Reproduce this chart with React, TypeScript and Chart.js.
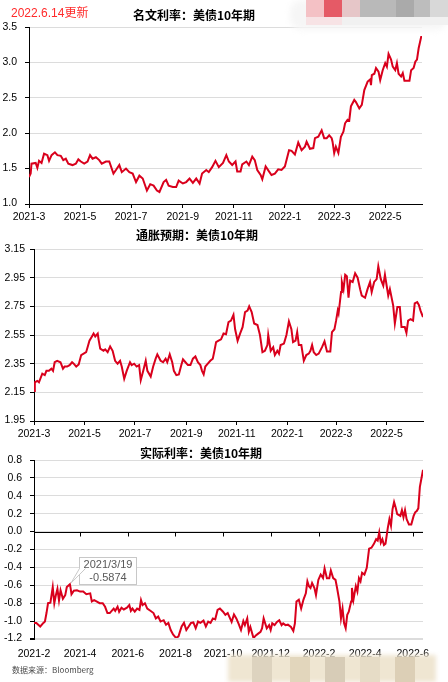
import React, { useEffect, useRef } from "react";
import { Chart, registerables } from "chart.js";

Chart.register(...registerables);

// ---------- Data ----------
const nominalDates = [
  "2021-03-01","2021-03-03","2021-03-04","2021-03-09","2021-03-11","2021-03-13","2021-03-16","2021-03-19","2021-03-23","2021-03-25",
  "2021-03-28","2021-04-01","2021-04-04","2021-04-08","2021-04-11","2021-04-14","2021-04-17","2021-04-22","2021-04-26","2021-04-29",
  "2021-05-02","2021-05-06","2021-05-10","2021-05-13","2021-05-16","2021-05-20","2021-05-24","2021-05-27","2021-06-01","2021-06-05",
  "2021-06-10","2021-06-13","2021-06-17","2021-06-20","2021-06-25","2021-06-29","2021-07-03","2021-07-07","2021-07-11","2021-07-15",
  "2021-07-20","2021-07-24","2021-07-28","2021-08-01","2021-08-04","2021-08-09","2021-08-12","2021-08-15","2021-08-20","2021-08-24",
  "2021-08-27","2021-09-01","2021-09-05","2021-09-09","2021-09-13","2021-09-17","2021-09-21","2021-09-24","2021-09-29","2021-10-02",
  "2021-10-06","2021-10-10","2021-10-14","2021-10-19","2021-10-23","2021-10-26","2021-10-30","2021-11-03","2021-11-05","2021-11-09",
  "2021-11-11","2021-11-16","2021-11-19","2021-11-23","2021-11-26","2021-11-29","2021-12-03","2021-12-05","2021-12-09","2021-12-13",
  "2021-12-16","2021-12-20","2021-12-24","2021-12-28","2022-01-01","2022-01-03","2022-01-06","2022-01-09","2022-01-13","2022-01-17",
  "2022-01-21","2022-01-25","2022-01-27","2022-01-31","2022-02-04","2022-02-06","2022-02-10","2022-02-14","2022-02-17","2022-02-20",
  "2022-02-23","2022-02-26","2022-02-27","2022-03-01","2022-03-03","2022-03-06","2022-03-09","2022-03-12","2022-03-14","2022-03-17",
  "2022-03-19","2022-03-21","2022-03-25","2022-03-27","2022-03-31","2022-04-03","2022-04-06","2022-04-10","2022-04-13","2022-04-14",
  "2022-04-15","2022-04-18","2022-04-20","2022-04-23","2022-04-25","2022-04-28","2022-05-01","2022-05-03","2022-05-05","2022-05-08",
  "2022-05-10","2022-05-13","2022-05-15","2022-05-17","2022-05-20","2022-05-22","2022-05-24","2022-05-28","2022-05-30","2022-06-01",
  "2022-06-04","2022-06-06","2022-06-08","2022-06-10","2022-06-13","2022-06-14",
];
const nominalValues = [
  1.38,1.43,1.57,1.58,1.51,1.61,1.58,1.71,1.69,1.61,
  1.69,1.73,1.69,1.68,1.62,1.64,1.57,1.55,1.57,1.63,
  1.60,1.57,1.60,1.69,1.64,1.66,1.62,1.57,1.60,1.60,
  1.43,1.48,1.55,1.45,1.50,1.45,1.43,1.31,1.40,1.36,
  1.19,1.28,1.26,1.19,1.17,1.31,1.34,1.26,1.24,1.24,
  1.33,1.29,1.31,1.36,1.30,1.36,1.29,1.43,1.48,1.45,
  1.52,1.61,1.52,1.58,1.69,1.60,1.55,1.60,1.46,1.46,
  1.56,1.60,1.55,1.67,1.62,1.48,1.41,1.35,1.53,1.46,
  1.41,1.43,1.49,1.48,1.53,1.62,1.76,1.75,1.70,1.87,
  1.76,1.81,1.88,1.78,1.79,1.93,1.95,2.04,1.93,1.93,
  1.97,1.93,1.88,1.72,1.81,1.72,1.95,2.02,2.14,2.19,
  2.18,2.38,2.47,2.44,2.35,2.40,2.61,2.73,2.76,2.68,
  2.82,2.84,2.92,2.87,2.75,2.89,2.99,2.94,3.12,3.04,
  2.94,2.89,2.99,2.84,2.80,2.85,2.74,2.74,2.74,2.89,
  2.92,3.01,3.04,3.20,3.36,3.36,
];

const breakevenDates = [
  "2021-03-01","2021-03-02","2021-03-05","2021-03-07","2021-03-11","2021-03-14","2021-03-16","2021-03-19","2021-03-22","2021-03-24",
  "2021-03-26","2021-03-29","2021-04-02","2021-04-05","2021-04-07","2021-04-10","2021-04-13","2021-04-16","2021-04-18","2021-04-21",
  "2021-04-24","2021-04-27","2021-04-30","2021-05-03","2021-05-05","2021-05-07","2021-05-10","2021-05-12","2021-05-14","2021-05-17",
  "2021-05-18","2021-05-20","2021-05-24","2021-05-26","2021-05-29","2021-06-01","2021-06-04","2021-06-07","2021-06-10","2021-06-13",
  "2021-06-15","2021-06-18","2021-06-21","2021-06-25","2021-06-27","2021-06-30","2021-07-03","2021-07-06","2021-07-08","2021-07-11",
  "2021-07-14","2021-07-16","2021-07-20","2021-07-23","2021-07-26","2021-07-28","2021-08-01","2021-08-04","2021-08-07","2021-08-09",
  "2021-08-12","2021-08-15","2021-08-17","2021-08-20","2021-08-23","2021-08-26","2021-08-28","2021-08-31","2021-09-03","2021-09-06",
  "2021-09-09","2021-09-12","2021-09-15","2021-09-18","2021-09-20","2021-09-22","2021-09-24","2021-09-27","2021-09-30","2021-10-03",
  "2021-10-05","2021-10-07","2021-10-10","2021-10-13","2021-10-16","2021-10-19","2021-10-22","2021-10-25","2021-10-28","2021-10-30",
  "2021-11-02","2021-11-05","2021-11-08","2021-11-11","2021-11-14","2021-11-16","2021-11-19","2021-11-22","2021-11-26","2021-11-29",
  "2021-12-02","2021-12-05","2021-12-08","2021-12-09","2021-12-12","2021-12-15","2021-12-17","2021-12-20","2021-12-22","2021-12-24",
  "2021-12-28","2021-12-31","2022-01-03","2022-01-06","2022-01-08","2022-01-11","2022-01-13","2022-01-15","2022-01-18","2022-01-21",
  "2022-01-24","2022-01-27","2022-01-29","2022-01-31","2022-02-02","2022-02-05","2022-02-08","2022-02-12","2022-02-15","2022-02-18",
  "2022-02-22","2022-02-24","2022-02-27","2022-03-01","2022-03-03","2022-03-04","2022-03-07","2022-03-08","2022-03-10","2022-03-12",
  "2022-03-14","2022-03-16","2022-03-18","2022-03-21","2022-03-24","2022-03-27","2022-03-30","2022-04-01","2022-04-05","2022-04-08",
  "2022-04-11","2022-04-13","2022-04-16","2022-04-19","2022-04-21","2022-04-24","2022-04-27","2022-04-29","2022-05-03","2022-05-05",
  "2022-05-09","2022-05-11","2022-05-14","2022-05-17","2022-05-19","2022-05-23","2022-05-25","2022-05-27","2022-05-30","2022-06-02",
  "2022-06-04","2022-06-07","2022-06-09","2022-06-11","2022-06-14",
];
const breakevenValues = [
  2.16,2.22,2.23,2.22,2.28,2.27,2.30,2.30,2.315,2.30,
  2.36,2.37,2.36,2.315,2.33,2.33,2.34,2.36,2.35,2.33,
  2.345,2.41,2.42,2.43,2.47,2.51,2.54,2.56,2.54,2.56,
  2.52,2.455,2.44,2.45,2.43,2.47,2.44,2.37,2.35,2.37,
  2.33,2.245,2.30,2.36,2.34,2.35,2.33,2.34,2.235,2.30,
  2.37,2.30,2.26,2.33,2.385,2.415,2.37,2.36,2.385,2.36,
  2.415,2.36,2.30,2.27,2.275,2.34,2.38,2.36,2.34,2.34,
  2.385,2.40,2.36,2.34,2.30,2.275,2.33,2.35,2.37,2.385,
  2.44,2.50,2.51,2.52,2.56,2.555,2.64,2.65,2.69,2.59,
  2.51,2.56,2.605,2.71,2.72,2.75,2.71,2.63,2.62,2.55,
  2.43,2.44,2.48,2.55,2.44,2.465,2.41,2.44,2.42,2.48,
  2.49,2.55,2.645,2.59,2.50,2.51,2.57,2.48,2.48,2.37,
  2.41,2.42,2.44,2.48,2.43,2.41,2.42,2.465,2.505,2.435,
  2.435,2.57,2.59,2.65,2.72,2.70,2.85,2.92,2.87,2.97,
  2.96,2.81,2.93,2.92,2.98,2.95,2.87,2.825,2.81,2.87,
  2.92,2.85,2.92,2.94,3.03,2.94,2.895,2.97,2.825,2.87,
  2.755,2.63,2.745,2.745,2.605,2.605,2.565,2.65,2.66,2.65,
  2.77,2.78,2.76,2.72,2.675,
];

const realDates = [
  "2021-02-01","2021-02-04","2021-02-09","2021-02-13","2021-02-15","2021-02-17","2021-02-19","2021-02-22","2021-02-25","2021-02-27",
  "2021-03-01","2021-03-03","2021-03-05","2021-03-07","2021-03-10","2021-03-13","2021-03-15","2021-03-19","2021-03-20","2021-03-21",
  "2021-03-24","2021-03-28","2021-04-01","2021-04-05","2021-04-09","2021-04-14","2021-04-16","2021-04-19","2021-04-22","2021-04-26",
  "2021-04-30","2021-05-03","2021-05-06","2021-05-09","2021-05-14","2021-05-16","2021-05-19","2021-05-21","2021-05-24","2021-05-27",
  "2021-05-31","2021-06-03","2021-06-05","2021-06-07","2021-06-10","2021-06-13","2021-06-16","2021-06-18","2021-06-20","2021-06-23",
  "2021-06-26","2021-06-30","2021-07-04","2021-07-07","2021-07-10","2021-07-13","2021-07-17","2021-07-20","2021-07-23","2021-07-26",
  "2021-07-29","2021-08-02","2021-08-05","2021-08-07","2021-08-09","2021-08-12","2021-08-15","2021-08-18","2021-08-21","2021-08-24",
  "2021-08-27","2021-08-30","2021-09-02","2021-09-06","2021-09-09","2021-09-12","2021-09-15","2021-09-18","2021-09-21","2021-09-24",
  "2021-09-27","2021-10-01","2021-10-04","2021-10-07","2021-10-09","2021-10-12","2021-10-15","2021-10-18","2021-10-21","2021-10-24",
  "2021-10-27","2021-10-29","2021-11-01","2021-11-03","2021-11-05","2021-11-09","2021-11-12","2021-11-15","2021-11-18","2021-11-20",
  "2021-11-22","2021-11-26","2021-11-29","2021-12-01","2021-12-03","2021-12-06","2021-12-09","2021-12-12","2021-12-15","2021-12-17",
  "2021-12-20","2021-12-23","2021-12-27","2021-12-30","2022-01-01","2022-01-03","2022-01-06","2022-01-09","2022-01-12","2022-01-15",
  "2022-01-17","2022-01-19","2022-01-21","2022-01-23","2022-01-26","2022-01-28","2022-01-31","2022-02-03","2022-02-06","2022-02-08",
  "2022-02-11","2022-02-14","2022-02-16","2022-02-19","2022-02-22","2022-02-24","2022-02-27","2022-03-01","2022-03-03","2022-03-05",
  "2022-03-07","2022-03-09","2022-03-11","2022-03-14","2022-03-15","2022-03-17","2022-03-20","2022-03-22","2022-03-24","2022-03-26",
  "2022-03-28","2022-03-31","2022-04-03","2022-04-06","2022-04-09","2022-04-12","2022-04-15","2022-04-17","2022-04-19","2022-04-21",
  "2022-04-23","2022-04-25","2022-04-27","2022-04-30","2022-05-02","2022-05-04","2022-05-06","2022-05-08","2022-05-10","2022-05-12",
  "2022-05-16","2022-05-18","2022-05-20","2022-05-22","2022-05-24","2022-05-27","2022-05-30","2022-06-02","2022-06-04","2022-06-06",
  "2022-06-08","2022-06-10","2022-06-14",
];
const realValues = [
  -1.02,-1.02,-1.06,-1.02,-1.005,-0.91,-0.80,-0.795,-0.62,-0.80,
  -0.71,-0.64,-0.77,-0.655,-0.75,-0.71,-0.62,-0.5874,-0.64,-0.70,
  -0.66,-0.655,-0.67,-0.67,-0.70,-0.69,-0.78,-0.765,-0.78,-0.80,
  -0.80,-0.84,-0.91,-0.91,-0.86,-0.885,-0.84,-0.895,-0.85,-0.87,
  -0.85,-0.82,-0.885,-0.86,-0.895,-0.86,-0.875,-0.765,-0.82,-0.80,
  -0.86,-0.885,-0.91,-0.97,-0.95,-1.005,-0.99,-1.04,-1.02,-1.10,
  -1.15,-1.19,-1.17,-1.115,-1.06,-1.02,-1.10,-1.06,-1.02,-1.015,
  -1.08,-1.005,-1.02,-0.995,-1.06,-1.005,-1.02,-0.97,-0.98,-0.875,
  -0.86,-0.895,-0.93,-0.91,-0.95,-1.01,-0.925,-0.97,-1.03,-1.10,
  -1.00,-1.045,-0.97,-1.12,-1.065,-1.19,-1.16,-1.14,-1.12,-1.08,
  -0.97,-1.08,-1.045,-1.10,-1.025,-1.045,-1.01,-0.99,-1.045,-1.025,
  -1.045,-1.04,-1.065,-1.11,-1.025,-0.78,-0.76,-0.86,-0.76,-0.69,
  -0.555,-0.61,-0.63,-0.575,-0.63,-0.71,-0.54,-0.48,-0.52,-0.41,
  -0.52,-0.52,-0.435,-0.52,-0.54,-0.63,-0.78,-0.97,-0.86,-1.025,
  -1.08,-0.93,-0.895,-0.78,-0.63,-0.76,-0.61,-0.67,-0.52,-0.555,
  -0.46,-0.48,-0.405,-0.19,-0.18,-0.14,-0.085,-0.10,-0.01,-0.125,
  -0.085,-0.15,-0.135,0.045,0.14,0.065,0.25,0.33,0.27,0.195,
  0.175,0.24,0.16,0.24,0.14,0.08,0.08,0.175,0.215,0.23,
  0.26,0.50,0.69,
];

const nominalXTicks = ["2021-3","2021-5","2021-7","2021-9","2021-11","2022-1","2022-3","2022-5"];
const breakevenXTicks = ["2021-3","2021-5","2021-7","2021-9","2021-11","2022-1","2022-3","2022-5"];
const realXTicks = ["2021-2","2021-4","2021-6","2021-8","2021-10","2021-12","2022-2","2022-4","2022-6"];

const nominalYTicks = [1.0, 1.5, 2.0, 2.5, 3.0, 3.5];
const breakevenYTicks = [1.95, 2.15, 2.35, 2.55, 2.75, 2.95, 3.15];
const realYTicks = [-1.2, -1.0, -0.8, -0.6, -0.4, -0.2, 0.0, 0.2, 0.4, 0.6, 0.8];

const nominalRange = ["2021-03-01", "2022-06-14"];
const breakevenRange = ["2021-03-01", "2022-06-14"];
const realRange = ["2021-02-01", "2022-06-14"];

const annotationDate = "2021-03-19";
const annotationLabel = "2021/3/19";

const titles = ["名文利率：美债10年期", "通胀预期：美债10年期", "实际利率：美债10年期"];
const updateNote = "2022.6.14更新";
const sourceNote = "数据来源：Bloomberg";

// ---------- Helpers ----------
const RED = "#d9001c";
const FONT_FAMILY = "'Liberation Sans', Arial, sans-serif";
const TICK_FONT = { family: FONT_FAMILY, size: 10.5 };

const toDay = (s: string) => {
  const [y, m, d] = s.split("-").map(Number);
  return Date.UTC(y, m - 1, d || 1) / 86400000;
};

type PanelCfg = {
  dates: string[];
  values: number[];
  xTicks: string[];
  yTicks: number[];
  decimals: number;
  range: string[];
  yWidth: number;
  xHeight: number;
  padTop: number;
  padRight: number;
  yPad: number;
  zeroAxis?: boolean;
  annotate?: boolean;
};

const zeroAxisPlugin = {
  id: "zeroAxis",
  beforeDatasetsDraw(chart: any) {
    const { ctx, chartArea, scales } = chart;
    const y0 = Math.round(scales.y.getPixelForValue(0)) + 0.5;
    ctx.save();
    ctx.strokeStyle = "#000";
    ctx.lineWidth = 1;
    ctx.beginPath();
    ctx.moveTo(chartArea.left, y0);
    ctx.lineTo(chartArea.right, y0);
    scales.x.ticks.forEach((t: any) => {
      const px = Math.round(scales.x.getPixelForValue(t.value)) + 0.5;
      ctx.moveTo(px, y0);
      ctx.lineTo(px, y0 + 4);
    });
    ctx.stroke();
    ctx.restore();
  },
};

const annotationPlugin = {
  id: "pointNote",
  afterDatasetsDraw(chart: any) {
    const { ctx, scales } = chart;
    const idx = realDates.indexOf(annotationDate);
    if (idx < 0) return;
    const px = scales.x.getPixelForValue(toDay(realDates[idx]));
    const py = scales.y.getPixelForValue(realValues[idx]);
    const bx = Math.round(px + 9) + 0.5;
    const by = Math.round(py - 27) + 0.5;
    const bw = 57;
    const bh = 27;
    ctx.save();
    ctx.fillStyle = "#fff";
    ctx.strokeStyle = "#c8c8c8";
    ctx.lineWidth = 1;
    ctx.fillRect(bx, by, bw, bh);
    ctx.strokeRect(bx, by, bw, bh);
    ctx.beginPath();
    ctx.moveTo(bx, by + 11);
    ctx.lineTo(px + 1, py - 1);
    ctx.lineTo(bx + 6, by + 11);
    ctx.closePath();
    ctx.fill();
    ctx.beginPath();
    ctx.moveTo(bx, by + 11);
    ctx.lineTo(px + 1, py - 1);
    ctx.lineTo(bx + 6, by + 11);
    ctx.stroke();
    ctx.fillStyle = "#595959";
    ctx.font = "11px " + FONT_FAMILY;
    ctx.textAlign = "center";
    ctx.textBaseline = "middle";
    ctx.fillText(annotationLabel, bx + bw / 2, by + 7);
    ctx.fillText(realValues[idx].toFixed(4), bx + bw / 2, by + 20);
    ctx.restore();
  },
};

// y tick labels and bottom grid line, placed through the y scale's pixel mapping
const makeYLabelPlugin = (p: PanelCfg) => ({
  id: "yTickLabels",
  afterDraw(chart: any) {
    const { ctx, chartArea } = chart;
    const ys = chart.scales.y;
    ctx.save();
    // bottom grid line (for panels without a bottom axis line)
    if (p.zeroAxis) {
      const yb = Math.round(ys.getPixelForValue(p.yTicks[0])) - 0.5;
      ctx.strokeStyle = "#dcdcdc";
      ctx.lineWidth = 1;
      ctx.beginPath();
      ctx.moveTo(chartArea.left + 1, yb);
      ctx.lineTo(chartArea.right, yb);
      ctx.stroke();
      ctx.strokeStyle = "#000";
      ctx.beginPath();
      ctx.moveTo(chartArea.left - 4, yb);
      ctx.lineTo(chartArea.left, yb);
      ctx.stroke();
    }
    ctx.fillStyle = "#000";
    ctx.font = TICK_FONT.size + "px " + FONT_FAMILY;
    ctx.textAlign = "right";
    ctx.textBaseline = "middle";
    p.yTicks.forEach((v) => {
      const py = Math.min(ys.getPixelForValue(v), chartArea.bottom - 1);
      ctx.fillText(v.toFixed(p.decimals), chartArea.left - 4 - p.yPad, py);
    });
    ctx.restore();
  },
});

function makeConfig(p: PanelCfg): any {
  const xTickValues = p.xTicks.map(toDay);
  const plugins: any[] = [makeYLabelPlugin(p)];
  if (p.zeroAxis) plugins.push(zeroAxisPlugin);
  if (p.annotate) plugins.push(annotationPlugin);
  return {
    type: "line",
    data: {
      datasets: [
        {
          data: p.dates.map((d, i) => ({ x: toDay(d), y: p.values[i] })),
          borderColor: RED,
          borderWidth: 2,
          pointRadius: 0,
          tension: 0,
          fill: false,
        },
      ],
    },
    options: {
      animation: false,
      responsive: false,
      devicePixelRatio: 1,
      events: [],
      layout: { padding: { top: p.padTop, right: p.padRight, bottom: 0, left: 0 } },
      plugins: {
        legend: { display: false },
        tooltip: { enabled: false },
        title: { display: false },
      },
      scales: {
        x: {
          type: "linear",
          min: toDay(p.range[0]),
          max: toDay(p.range[1]),
          afterBuildTicks: (s: any) => {
            s.ticks = xTickValues.map((v) => ({ value: v }));
          },
          afterFit: (s: any) => {
            s.height = p.xHeight;
            s.paddingLeft = 0;
            s.paddingRight = 0;
          },
          ticks: {
            autoSkip: false,
            maxRotation: 0,
            minRotation: 0,
            color: "#000",
            font: TICK_FONT,
            padding: p.zeroAxis ? 5 : 3,
            callback: (_v: any, i: number) => p.xTicks[i],
          },
          grid: {
            display: !p.zeroAxis,
            drawOnChartArea: false,
            drawTicks: true,
            tickLength: 4,
            tickColor: "#000",
          },
          border: { display: !p.zeroAxis, color: "#000", width: 1 },
        },
        y: {
          type: "linear",
          min: p.yTicks[0],
          max: p.yTicks[p.yTicks.length - 1],
          afterBuildTicks: (s: any) => {
            s.ticks = p.yTicks.map((v) => ({ value: v }));
          },
          afterFit: (s: any) => {
            s.width = p.yWidth;
            s.paddingTop = 0;
            s.paddingBottom = 0;
          },
          ticks: {
            display: false,
            autoSkip: false,
          },
          grid: {
            color: "#dcdcdc",
            lineWidth: 1,
            drawTicks: true,
            tickLength: 4,
            tickColor: "#000",
          },
          border: { display: true, color: "#000", width: 1 },
        },
      },
    },
    plugins,
  };
}

function Panel(props: { cfg: PanelCfg; top: number; height: number }) {
  const ref = useRef<HTMLCanvasElement | null>(null);
  useEffect(() => {
    if (!ref.current) return;
    const chart = new Chart(ref.current, makeConfig(props.cfg));
    return () => chart.destroy();
  }, []);
  return (
    <canvas
      ref={ref}
      width={448}
      height={props.height}
      style={{ position: "absolute", left: 0, top: props.top, width: 448, height: props.height }}
    />
  );
}

const titleStyle = (centerX: number, top: number): React.CSSProperties => ({
  position: "absolute",
  left: centerX - 110,
  width: 220,
  top,
  textAlign: "center",
  fontFamily: "'Noto Sans CJK SC', sans-serif",
  fontWeight: 700,
  fontSize: 12,
  lineHeight: "16px",
  color: "#000",
  whiteSpace: "nowrap",
});

export default function App() {
  const p1: PanelCfg = {
    dates: nominalDates, values: nominalValues, xTicks: nominalXTicks, yTicks: nominalYTicks,
    decimals: 1, range: nominalRange, yWidth: 29, xHeight: 26, padTop: 7, padRight: 26, yPad: 8,
  };
  const p2: PanelCfg = {
    dates: breakevenDates, values: breakevenValues, xTicks: breakevenXTicks, yTicks: breakevenYTicks,
    decimals: 2, range: breakevenRange, yWidth: 34, xHeight: 24, padTop: 9, padRight: 25, yPad: 5,
  };
  const p3: PanelCfg = {
    dates: realDates, values: realValues, xTicks: realXTicks, yTicks: realYTicks,
    decimals: 1, range: realRange, yWidth: 34, xHeight: 26, padTop: 10, padRight: 25, yPad: 8,
    zeroAxis: true, annotate: true,
  };
  return (
    <div
      style={{
        position: "fixed", left: 0, top: 0, width: 448, height: 682,
        background: "#fff", overflow: "hidden",
      }}
    >
      <Panel cfg={p1} top={20} height={210} />
      <Panel cfg={p2} top={240} height={205} />
      <Panel cfg={p3} top={450} height={215} />

      <div
        style={{
          position: "absolute", left: 11, top: 5, fontSize: 12, lineHeight: "16px",
          fontFamily: "'Liberation Sans', 'Noto Sans CJK SC', sans-serif", color: "#ff2a2a",
          whiteSpace: "nowrap",
        }}
      >
        {updateNote}
      </div>
      <div style={titleStyle(194, 7)}>{titles[0]}</div>
      <div style={titleStyle(197, 227)}>{titles[1]}</div>
      <div style={titleStyle(201, 445)}>{titles[2]}</div>
      <div
        style={{
          position: "absolute", left: 12, top: 664, fontSize: 8, lineHeight: "12px",
          fontFamily: "'Noto Sans CJK SC', sans-serif", color: "#4a4a4a", whiteSpace: "nowrap",
        }}
      >
        {sourceNote}
      </div>

      {/* blurred overlay blocks (top right) */}
      <div style={{ position: "absolute", left: 290, top: 0, width: 158, height: 30, background: "#f6f6f6", filter: "blur(3px)", borderRadius: 12 }} />
      <div style={{ position: "absolute", left: 306, top: 0, width: 18, height: 17, background: "#f4c1c5" }} />
      <div style={{ position: "absolute", left: 324, top: 0, width: 18, height: 17, background: "#e55a66" }} />
      <div style={{ position: "absolute", left: 342, top: 0, width: 18, height: 17, background: "#e6c6c8" }} />
      <div style={{ position: "absolute", left: 360, top: 0, width: 36, height: 17, background: "#b9b9b9" }} />
      <div style={{ position: "absolute", left: 396, top: 0, width: 18, height: 17, background: "#aaaaaa" }} />
      <div style={{ position: "absolute", left: 414, top: 0, width: 16, height: 17, background: "#bdbdbd" }} />
      <div style={{ position: "absolute", left: 430, top: 0, width: 18, height: 17, background: "#d8d8d8" }} />
      <div style={{ position: "absolute", left: 306, top: 17, width: 36, height: 8, background: "#f7e3e5" }} />
      <div style={{ position: "absolute", left: 342, top: 17, width: 106, height: 8, background: "#f1f1f1" }} />

      {/* blurred overlay blocks (bottom right) */}
      <div style={{ position: "absolute", left: 228, top: 655, width: 208, height: 27, background: "#efe6d2", filter: "blur(2px)" }} />
      <div style={{ position: "absolute", left: 252, top: 657, width: 20, height: 25, background: "#ddd3bf" }} />
      <div style={{ position: "absolute", left: 290, top: 657, width: 20, height: 25, background: "#e2d6bc" }} />
      <div style={{ position: "absolute", left: 325, top: 657, width: 20, height: 25, background: "#d7ccb7" }} />
      <div style={{ position: "absolute", left: 360, top: 657, width: 20, height: 25, background: "#e6dcc6" }} />
      <div style={{ position: "absolute", left: 395, top: 657, width: 20, height: 25, background: "#dccfb6" }} />
    </div>
  );
}
